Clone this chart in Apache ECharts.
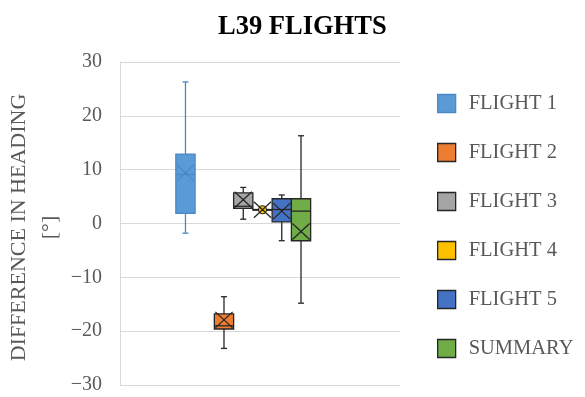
<!DOCTYPE html>
<html><head><meta charset="utf-8">
<script src="https://cdn.jsdelivr.net/npm/echarts@6/dist/echarts.min.js"></script>
<style>html,body{margin:0;padding:0;background:#fff}#c{width:585px;height:397px}</style>
</head><body><div id="c"></div>
<script>
// ---- data ----
const seriesNames  = ['FLIGHT 1', 'FLIGHT 2', 'FLIGHT 3', 'FLIGHT 4', 'FLIGHT 5', 'SUMMARY'];
const minValues    = [-1.8, -23.2, 0.8, 2.4, -3.2, -14.8];
const q1Values     = [1.9, -19.6, 2.8, 2.5, 0.3, -3.2];
const medianValues = [9.1, -19.0, 3.2, 2.5, 2.6, 2.3];
const q3Values     = [12.9, -16.8, 5.7, 2.6, 4.6, 4.6];
const maxValues    = [26.3, -13.6, 6.7, 2.7, 5.3, 16.3];
const meanValues   = [9.4, -17.9, 4.4, 2.55, 2.3, -1.5];
const yTicks       = [-30, -20, -10, 0, 10, 20, 30];

// ---- layout / style ----
const slotOf     = [0, 2, 3, 4, 5, 6];          // box slot along the hidden x axis
const fills      = ['#5B9BD5', '#ED7D31', '#A5A5A5', '#FFC000', '#4472C4', '#70AD47'];
const strokes    = ['#4A89C9', '#262626', '#262626', '#262626', '#262626', '#262626'];
const pointShown = [false, false, false, true, false, false];
const FONT = 'Liberation Serif, Times New Roman, serif';

function makeRender(i) {
  return function (params, api) {
    const x = api.value(0);
    const cx = api.coord([x, 0])[0];
    const yMin = api.coord([x, api.value(1)])[1];
    const yQ1  = api.coord([x, api.value(2)])[1];
    const yMed = api.coord([x, api.value(3)])[1];
    const yQ3  = api.coord([x, api.value(4)])[1];
    const yMax = api.coord([x, api.value(5)])[1];
    const yMean = api.coord([x, api.value(6)])[1];
    const bw = api.size([1, 0])[0];
    const hw = bw / 2;
    const cap = 3;
    const ls = { stroke: strokes[i], lineWidth: 1.3, fill: null };
    const line = (x1, y1, x2, y2) => ({ type: 'line', shape: { x1, y1, x2, y2 }, style: ls });
    const ch = [
      line(cx, yMax, cx, yQ3),
      line(cx, yQ1, cx, yMin),
      line(cx - cap, yMax, cx + cap, yMax),
      line(cx - cap, yMin, cx + cap, yMin),
      { type: 'rect', shape: { x: cx - hw, y: yQ3, width: bw, height: Math.max(yQ1 - yQ3, 0.5) },
        style: { fill: fills[i], stroke: strokes[i], lineWidth: 1.3 } },
      line(cx - hw, yMed, cx + hw, yMed)
    ];
    const mw = hw - 1, mh = 8;
    if (pointShown[i]) {
      ch.push({ type: 'circle', shape: { cx: cx, cy: yMean, r: 4 },
        style: { fill: fills[i], stroke: strokes[i], lineWidth: 1.1 } });
    }
    ch.push(line(cx - mw, yMean - mh, cx + mw, yMean + mh));
    ch.push(line(cx - mw, yMean + mh, cx + mw, yMean - mh));
    return { type: 'group', children: ch };
  };
}

const series = seriesNames.map((name, i) => ({
  name: name,
  type: 'custom',
  renderItem: makeRender(i),
  itemStyle: { color: fills[i], borderColor: strokes[i] },
  encode: { x: 0, y: [1, 2, 3, 4, 5, 6] },
  data: [[slotOf[i], minValues[i], q1Values[i], medianValues[i], q3Values[i], maxValues[i], meanValues[i]]],
  animation: false
}));

const chart = echarts.init(document.getElementById('c'), null, { renderer: 'canvas' });
chart.setOption({
  animation: false,
  backgroundColor: '#ffffff',
  title: {
    text: 'L39 FLIGHTS',
    left: 213, top: 9,
    textStyle: { fontFamily: FONT, fontWeight: 'bold', fontSize: 26.5, color: '#000000' }
  },
  legend: {
    orient: 'vertical',
    left: 437, top: 93, padding: 0,
    itemWidth: 18, itemHeight: 18, itemGap: 28,
    textStyle: { fontFamily: FONT, fontSize: 20.5, color: '#595959', padding: [0, 0, 0, 8] },
    data: seriesNames.map((n, i) => ({
      name: n, icon: 'rect',
      itemStyle: { color: fills[i], borderColor: strokes[i], borderWidth: 1.3 }
    }))
  },
  grid: { left: 120, right: 185, top: 62, bottom: 12, containLabel: false },
  xAxis: { type: 'value', min: -3.40, max: 11.14, show: false },
  yAxis: {
    type: 'value',
    min: yTicks[0], max: yTicks[yTicks.length - 1], interval: 10,
    name: 'DIFFERENCE IN HEADING\n[°]',
    nameLocation: 'middle', nameRotate: 90, nameGap: 54,
    nameTextStyle: { fontFamily: FONT, fontSize: 22, color: '#595959', lineHeight: 31, align: 'center', padding: [0, 8, 0, 0] },
    axisLine: { show: true, onZero: false, lineStyle: { color: '#D9D9D9', width: 1 } },
    axisTick: { show: false },
    axisLabel: {
      fontFamily: FONT, fontSize: 20, color: '#595959', margin: 18,
      formatter: v => String(v).replace('-', '\u2212')
    },
    splitLine: { show: true, lineStyle: { color: '#D9D9D9', width: 1 } }
  },
  series: series
});
</script>
</body></html>
